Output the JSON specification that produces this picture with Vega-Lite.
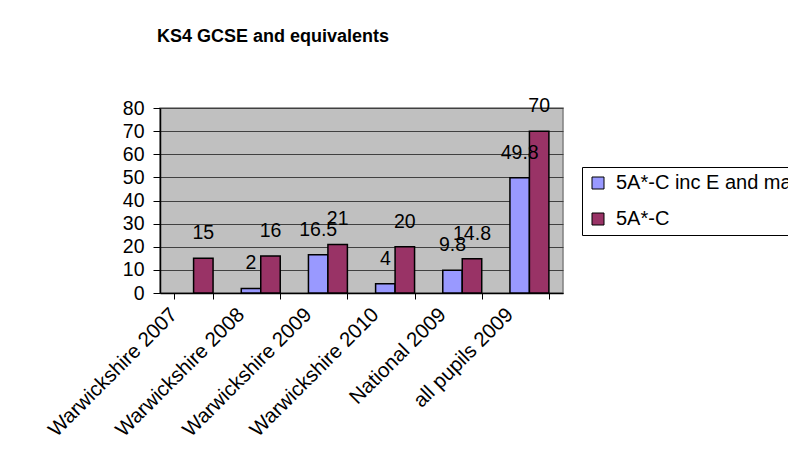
{
  "$schema": "https://vega.github.io/schema/vega-lite/v6.json",
  "width": 403,
  "height": 185,
  "autosize": {"type": "none"},
  "padding": {"left": 160, "top": 108, "right": 225, "bottom": 169},
  "background": "white",
  "title": {
    "text": "KS4 GCSE and equivalents",
    "anchor": "start",
    "frame": "group",
    "dx": -3,
    "offset": 36,
    "baseline": "alphabetic",
    "font": "Liberation Sans",
    "fontSize": 18,
    "fontWeight": "bold",
    "color": "black"
  },
  "data": {
    "values": [
      {"category": "Warwickshire 2007", "series": "5A*-C", "value": 15},
      {"category": "Warwickshire 2008", "series": "5A*-C inc E and maths", "value": 2},
      {"category": "Warwickshire 2008", "series": "5A*-C", "value": 16},
      {"category": "Warwickshire 2009", "series": "5A*-C inc E and maths", "value": 16.5},
      {"category": "Warwickshire 2009", "series": "5A*-C", "value": 21},
      {"category": "Warwickshire 2010", "series": "5A*-C inc E and maths", "value": 4},
      {"category": "Warwickshire 2010", "series": "5A*-C", "value": 20},
      {"category": "National 2009", "series": "5A*-C inc E and maths", "value": 9.8},
      {"category": "National 2009", "series": "5A*-C", "value": 14.8},
      {"category": "all pupils 2009", "series": "5A*-C inc E and maths", "value": 49.8},
      {"category": "all pupils 2009", "series": "5A*-C", "value": 70}
    ]
  },
  "encoding": {
    "x": {
      "field": "category",
      "type": "nominal",
      "sort": ["Warwickshire 2007", "Warwickshire 2008", "Warwickshire 2009", "Warwickshire 2010", "National 2009", "all pupils 2009"],
      "scale": {"paddingInner": 0.42, "paddingOuter": 0.21},
      "axis": {
        "title": null,
        "labelAngle": -45,
        "labelAlign": "right",
        "labelBaseline": "top",
        "labelOffset": -27,
        "labelPadding": 5,
        "tickBand": "extent",
        "tickSize": 6,
        "tickColor": "black",
        "domainColor": "black",
        "domainWidth": 1.5,
        "labelFont": "Liberation Sans",
        "labelFontSize": 20.5,
        "labelColor": "black",
        "labelLimit": 400,
        "labelOverlap": false,
        "grid": false
      }
    },
    "xOffset": {
      "field": "series",
      "type": "nominal",
      "sort": ["5A*-C inc E and maths", "5A*-C"],
      "scale": {"paddingInner": 0, "paddingOuter": 0}
    },
    "y": {
      "field": "value",
      "type": "quantitative",
      "scale": {"domain": [0, 80]},
      "axis": {
        "title": null,
        "values": [0, 10, 20, 30, 40, 50, 60, 70, 80],
        "grid": true,
        "gridColor": "#404040",
        "gridWidth": 1,
        "domainColor": "black",
        "domainWidth": 1.5,
        "tickColor": "black",
        "tickSize": 7,
        "labelPadding": 9,
        "labelFont": "Liberation Sans",
        "labelFontSize": 19.5,
        "labelColor": "black"
      }
    }
  },
  "layer": [
    {
      "mark": {"type": "bar", "stroke": "black", "strokeWidth": 1.5},
      "encoding": {
        "color": {
          "field": "series",
          "type": "nominal",
          "scale": {"domain": ["5A*-C inc E and maths", "5A*-C"], "range": ["#9999FF", "#993366"]},
          "legend": {
            "orient": "none",
            "legendX": 422,
            "legendY": 59,
            "title": null,
            "strokeColor": "black",
            "fillColor": "white",
            "padding": 6,
            "symbolType": "square",
            "symbolSize": 144,
            "symbolStrokeColor": "black",
            "symbolStrokeWidth": 1,
            "symbolOpacity": 1,
            "labelFont": "Liberation Sans",
            "labelFontSize": 20,
            "labelColor": "black",
            "labelLimit": 400,
            "labelOffset": 8,
            "rowPadding": 16
          }
        }
      }
    },
    {
      "mark": {"type": "text", "dy": -25, "baseline": "middle", "align": "center", "font": "Liberation Sans", "fontSize": 19.5, "color": "black"},
      "encoding": {
        "text": {"field": "value", "type": "quantitative"}
      }
    }
  ],
  "config": {
    "view": {"fill": "#C0C0C0", "stroke": "#808080", "strokeWidth": 1.5}
  }
}
